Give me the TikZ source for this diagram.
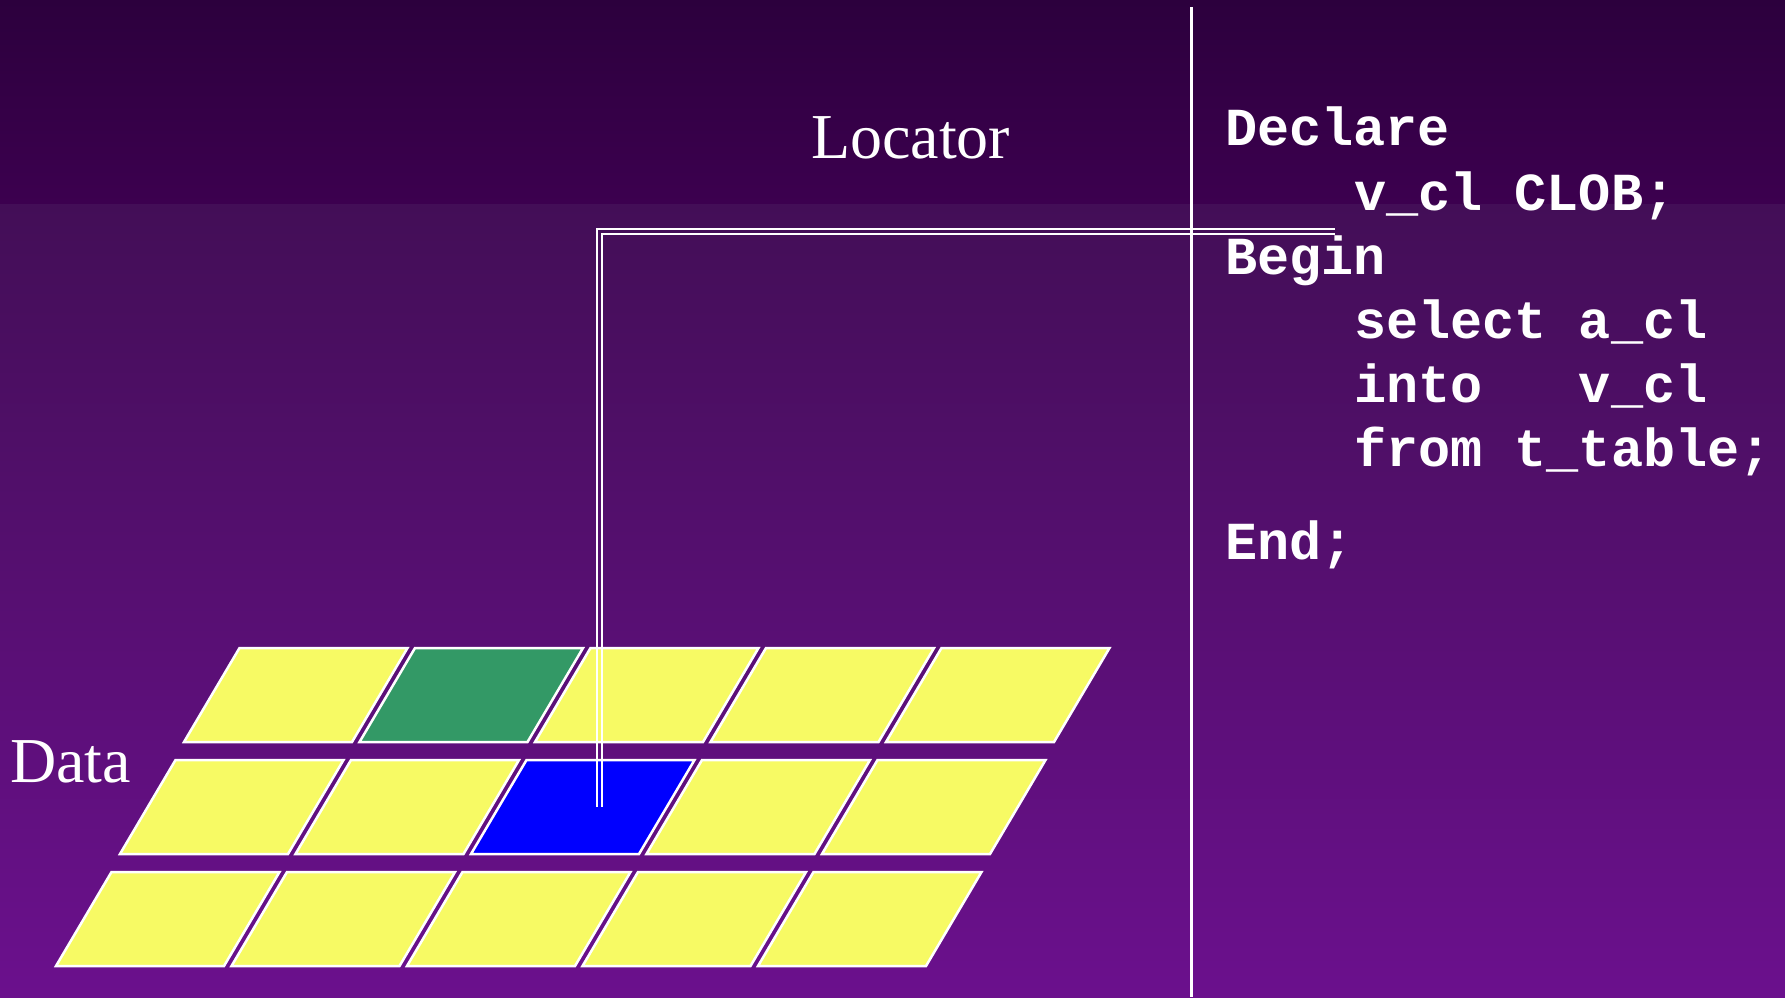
\documentclass[tikz,border=0pt]{standalone}
\usepackage{fontspec}
\setmainfont{Liberation Serif}
\newfontfamily\codefont{Liberation Mono}[BoldFont={* Bold}]
\definecolor{bgtop}{HTML}{2C003D}
\definecolor{bgmidA}{HTML}{3C004F}
\definecolor{bgmidB}{HTML}{430E57}
\definecolor{bgbot}{HTML}{6B108D}
\definecolor{cellyellow}{HTML}{F7FA64}
\definecolor{cellgreen}{HTML}{339966}
\definecolor{cellblue}{HTML}{0000FF}
\tikzset{
  cellbox/.style={draw=white, line width=2.5pt, line join=miter},
  locline/.style={draw=white, line width=2pt},
  divider/.style={draw=white, line width=2.8pt},
  codetext/.style={font=\codefont\bfseries\fontsize{53.5}{60}\selectfont, text=white, anchor=base west, inner sep=0pt},
  labeltext/.style={font=\fontsize{64}{70}\selectfont, text=white, anchor=base west, inner sep=0pt}
}
\begin{document}
\begin{tikzpicture}[x=1pt,y=-1pt]
\useasboundingbox (0,0) rectangle (1785,997);
% background
\shade[top color=bgtop, bottom color=bgmidA] (0,0) rectangle (1785,204);
\shade[top color=bgmidB, bottom color=bgbot] (0,204) rectangle (1785,997);
% divider
\coordinate (divtop) at (1191.5,7);
\coordinate (divbot) at (1191.5,997);
\draw[divider] (divtop) -- (divbot);
% cells
\foreach \i in {0,1,2}{
  \foreach \j in {0,...,4}{
    \pgfmathsetmacro{\xa}{239.5-64*\i+175.5*\j}
    \pgfmathsetmacro{\ya}{648+112*\i}
    \def\cellcol{cellyellow}
    \ifnum\i=0 \ifnum\j=1 \def\cellcol{cellgreen}\fi\fi
    \ifnum\i=1 \ifnum\j=2 \def\cellcol{cellblue}\fi\fi
    \draw[cellbox, fill=\cellcol] (\xa,\ya) -- (\xa+168,\ya) -- (\xa+112.5,\ya+94) -- (\xa-55.5,\ya+94) -- cycle;
  }
}
% labels
\node[labeltext] (locator) at (811,158) {Locator};
\node[labeltext] (data) at (10,782) {Data};
% code
\node[codetext] (l1) at (1225,145) {Declare};
\node[codetext] (l2) at (1354,210) {v\_cl CLOB;};
\node[codetext] (l3) at (1225,274) {Begin};
\node[codetext] (l4) at (1354,338) {select a\_cl};
\node[codetext] (l5) at (1354,402) {into~~~v\_cl};
\node[codetext] (l6) at (1354,466) {from t\_table;};
\node[codetext] (l7) at (1225,559) {End;};
% locator connector (double line)
\coordinate (codeA) at (1335,229);
\coordinate (codeB) at (1335,234);
\coordinate (dataA) at (596.5,807);
\coordinate (dataB) at (601.5,807);
\draw[locline] (codeA) -| (dataA);
\draw[locline] (codeB) -| (dataB);
\end{tikzpicture}
\end{document}
